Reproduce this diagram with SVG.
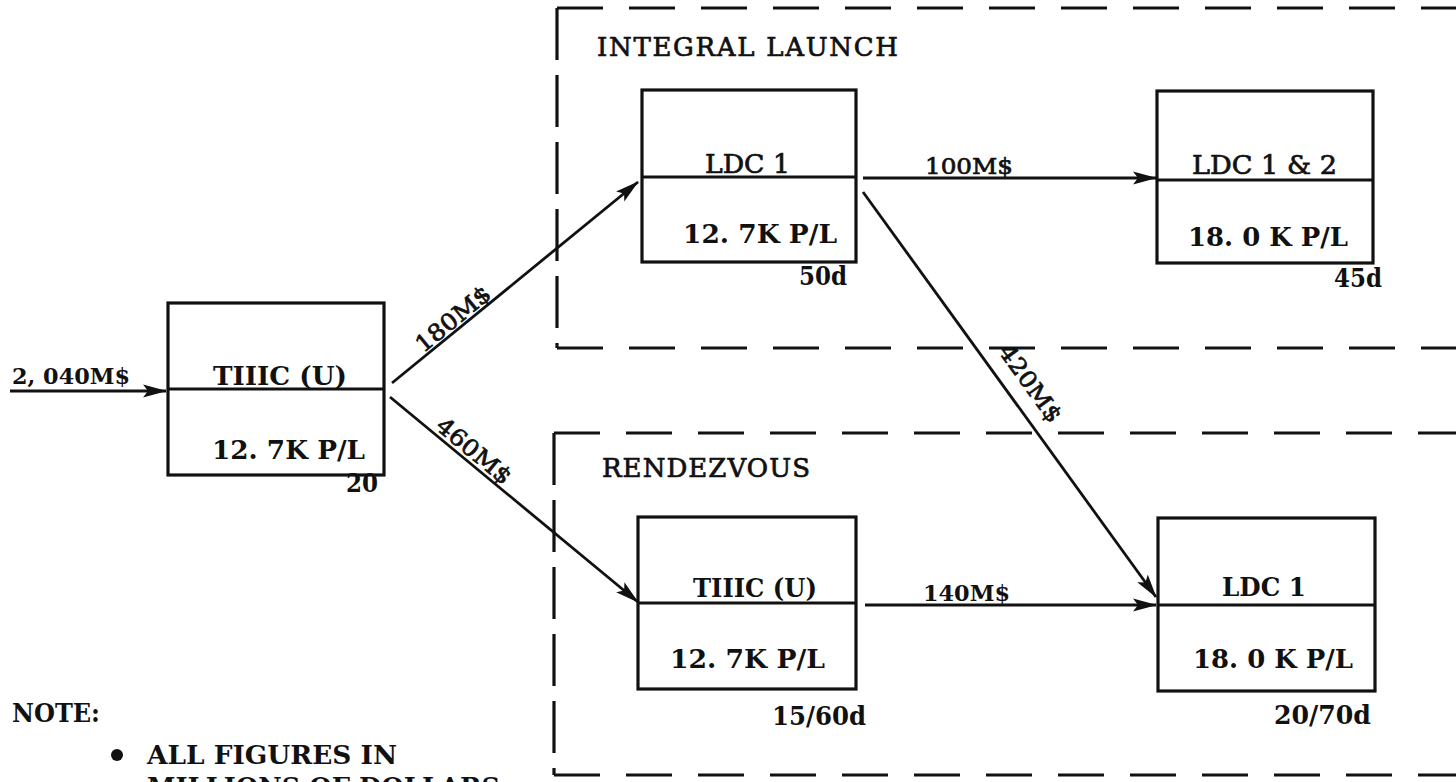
<svg xmlns="http://www.w3.org/2000/svg" width="1456" height="782" viewBox="0 0 1456 782">
<style>
text{font-family:"DejaVu Serif","Liberation Serif",serif;font-size:26px;fill:#111;font-weight:bold}
.n{font-weight:normal;stroke:#111;stroke-width:0.7}
.s{font-size:23px}
.box{fill:none;stroke:#111;stroke-width:3.2}
.div{stroke:#111;stroke-width:2.8}
.con{stroke:#111;stroke-width:2.8;fill:none;marker-end:url(#ah)}
.dh{stroke:#111;stroke-width:3.2;stroke-dasharray:46 26;fill:none}
.dv{stroke:#111;stroke-width:3.2;stroke-dasharray:52 15;fill:none}
</style>
<defs>
<marker id="ah" markerUnits="userSpaceOnUse" markerWidth="24" markerHeight="14" viewBox="0 0 24 14" refX="23" refY="7" orient="auto">
<path d="M0,0.5 L24,7 L0,13.5 L5,7 Z" fill="#111"/>
</marker>
</defs>
<rect width="1456" height="782" fill="#fff"/>

<g id="group-integral">
<line class="dh" x1="557" y1="8" x2="1456" y2="8"/>
<line class="dv" x1="557" y1="8" x2="557" y2="348"/>
<line class="dh" x1="557" y1="348" x2="1456" y2="348"/>
<text class="n" x="597" y="56" textLength="301" lengthAdjust="spacing">INTEGRAL LAUNCH</text>
</g>

<g id="group-rendezvous">
<line class="dh" x1="554" y1="433" x2="1456" y2="433"/>
<line class="dv" x1="554" y1="433" x2="554" y2="775"/>
<line class="dh" x1="554" y1="775" x2="1456" y2="775"/>
<text class="n" x="602" y="477" textLength="208" lengthAdjust="spacing">RENDEZVOUS</text>
</g>

<g id="node-a">
<rect class="box" x="168" y="303" width="216" height="172"/>
<line class="div" x1="168" y1="389" x2="384" y2="389"/>
<text x="213" y="385" textLength="134" lengthAdjust="spacingAndGlyphs">TIIIC (U)</text>
<text x="212" y="459" textLength="153" lengthAdjust="spacingAndGlyphs">12. 7K P/L</text>
<text x="346" y="492" textLength="32" lengthAdjust="spacingAndGlyphs">20</text>
</g>

<g id="node-b">
<rect class="box" x="642" y="90" width="214" height="172"/>
<line class="div" x1="642" y1="177" x2="856" y2="177"/>
<text class="n" x="705" y="173" textLength="85" lengthAdjust="spacingAndGlyphs">LDC 1</text>
<text x="683" y="243" textLength="154" lengthAdjust="spacingAndGlyphs">12. 7K P/L</text>
<text x="799" y="285" textLength="48" lengthAdjust="spacingAndGlyphs">50d</text>
</g>

<g id="node-c">
<rect class="box" x="638" y="517" width="218" height="172"/>
<line class="div" x1="638" y1="603" x2="856" y2="603"/>
<text x="693" y="597" textLength="124" lengthAdjust="spacingAndGlyphs">TIIIC (U)</text>
<text x="670" y="668" textLength="155" lengthAdjust="spacingAndGlyphs">12. 7K P/L</text>
<text x="772" y="725" textLength="94" lengthAdjust="spacingAndGlyphs">15/60d</text>
</g>

<g id="node-d">
<rect class="box" x="1157" y="91" width="216" height="172"/>
<line class="div" x1="1157" y1="180" x2="1373" y2="180"/>
<text class="n" x="1192" y="174" textLength="145" lengthAdjust="spacingAndGlyphs">LDC 1 &amp; 2</text>
<text x="1188" y="246" textLength="160" lengthAdjust="spacingAndGlyphs">18. 0 K P/L</text>
<text x="1334" y="287" textLength="48" lengthAdjust="spacingAndGlyphs">45d</text>
</g>

<g id="node-e">
<rect class="box" x="1158" y="518" width="217" height="173"/>
<line class="div" x1="1158" y1="605" x2="1375" y2="605"/>
<text x="1222" y="596" textLength="84" lengthAdjust="spacingAndGlyphs">LDC 1</text>
<text x="1193" y="668" textLength="160" lengthAdjust="spacingAndGlyphs">18. 0 K P/L</text>
<text x="1274" y="724" textLength="97" lengthAdjust="spacingAndGlyphs">20/70d</text>
</g>

<g id="connectors">
<line class="con" x1="10" y1="391" x2="166" y2="391"/>
<text class="s" x="12" y="384" textLength="118" lengthAdjust="spacingAndGlyphs">2, 040M$</text>
<line class="con" x1="392" y1="383" x2="638" y2="182"/>
<text class="n s" x="458" y="325" text-anchor="middle" textLength="90" lengthAdjust="spacingAndGlyphs" transform="rotate(-39.4 458 325)">180M$</text>
<line class="con" x1="390" y1="397" x2="638" y2="602"/>
<text class="n s" x="469" y="457" text-anchor="middle" textLength="90" lengthAdjust="spacingAndGlyphs" transform="rotate(39.7 469 457)">460M$</text>
<line class="con" x1="863" y1="178" x2="1156" y2="178"/>
<text class="n s" x="925" y="174" textLength="88" lengthAdjust="spacingAndGlyphs">100M$</text>
<line class="con" x1="863" y1="192" x2="1156" y2="597"/>
<text class="n s" x="1024" y="388" text-anchor="middle" textLength="90" lengthAdjust="spacingAndGlyphs" transform="rotate(54.2 1024 388)">420M$</text>
<line class="con" x1="865" y1="605" x2="1156" y2="605"/>
<text class="s" x="923" y="601" textLength="87" lengthAdjust="spacingAndGlyphs">140M$</text>
</g>

<g id="note">
<text x="12" y="722" textLength="88" lengthAdjust="spacingAndGlyphs">NOTE:</text>
<circle cx="117" cy="755" r="6" fill="#111"/>
<text x="147" y="764" textLength="250" lengthAdjust="spacingAndGlyphs">ALL FIGURES IN</text>
<text x="147" y="796" textLength="353" lengthAdjust="spacingAndGlyphs">MILLIONS OF DOLLARS</text>
</g>
</svg>
